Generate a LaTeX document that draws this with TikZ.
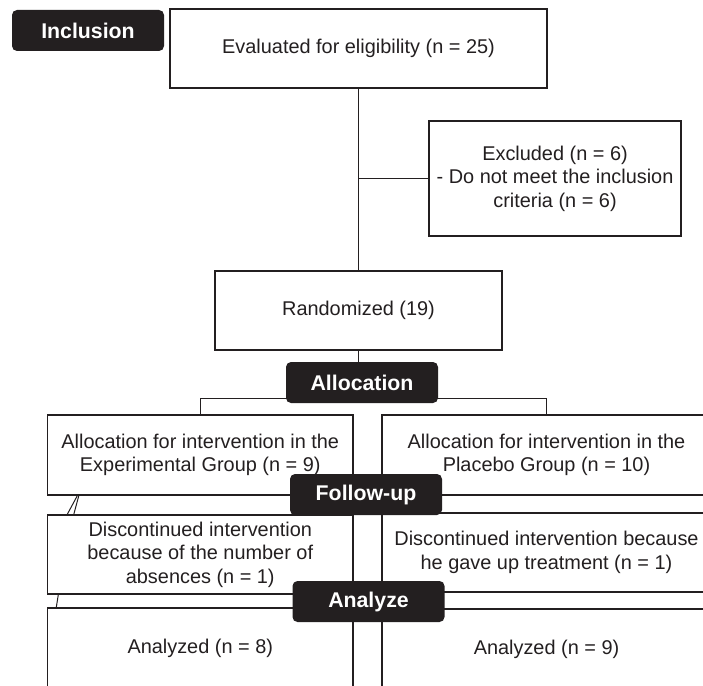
\documentclass[tikz,border=0pt]{standalone}
\usepackage{fontspec}
\setmainfont{Liberation Sans}
\usetikzlibrary{backgrounds}
\definecolor{ink}{HTML}{231F20}
\begin{document}
\begin{tikzpicture}[x=1pt,y=-1pt,
  box/.style={draw=ink,line width=1.4pt,rectangle,inner sep=0pt,align=center,text=ink,
    font=\fontsize{19.9}{23.5}\selectfont},
  tag/.style={fill=ink,rounded corners=5pt,inner sep=0pt,text=white,
    minimum width=152pt,minimum height=41pt,font=\fontsize{21.3}{24}\selectfont\bfseries},
  link/.style={draw=ink,line width=1.4pt}]
\useasboundingbox (0,0) rectangle (703,685);
\clip (0,0) rectangle (703,685);
% boxes
\node[box,minimum width=377pt,minimum height=79pt] (eval) at (358.5,48.5) {Evaluated for eligibility (n = 25)};
\node[box,minimum width=252pt,minimum height=115pt] (excl) at (555,178.5) {Excluded (n = 6)\\- Do not meet the inclusion\\criteria (n = 6)};
\node[box,minimum width=287pt,minimum height=79pt] (rand) at (358.5,310.5) {Randomized (19)};
\node[box,minimum width=305.5pt,minimum height=80pt] (allocL) at (200.25,455) {Allocation for intervention in the\\Experimental Group (n = 9)};
\node[box,minimum width=329pt,minimum height=80pt] (allocR) at (546.5,455) {Allocation for intervention in the\\Placebo Group (n = 10)};
\node[box,minimum width=305.5pt,minimum height=79pt] (discL) at (200.25,554.5) {Discontinued intervention\\because of the number of\\absences (n = 1)};
\node[box,minimum width=329pt,minimum height=79pt] (discR) at (546.5,552.5) {Discontinued intervention because\\he gave up treatment (n = 1)};
\node[box,minimum width=305.5pt,minimum height=80pt] (anaL) at (200.25,648) {Analyzed (n = 8)};
\node[box,minimum width=329pt,minimum height=80pt] (anaR) at (546.5,649) {Analyzed (n = 9)};
% stage tags
\node[tag] (tInc) at (88,30.5) {Inclusion};
\node[tag] (tAll) at (362,382.5) {Allocation};
\node[tag] (tFol) at (366,494.5) {Follow-up};
\node[tag] (tAna) at (368.5,601.5) {Analyze};
% connectors
\begin{pgfonlayer}{background}
\draw[link] (eval.south) -- (rand.north);
\draw[link] (eval.south |- excl.west) -- (excl.west);
\draw[link] (rand.south) -- (rand.south |- tAll.north);
\draw[link] (allocL.north) -- ++(0,-16) -| (allocR.north);
\end{pgfonlayer}
\draw[ink,line width=1pt] ([xshift=30.5pt]allocL.south west) -- ([xshift=20.5pt]discL.north west);
\draw[ink,line width=1pt] ([xshift=32pt]allocL.south west) -- ([xshift=27pt]discL.north west);
\draw[ink,line width=1pt] ([xshift=11.5pt]discL.south west) -- ([xshift=9.5pt]anaL.north west);
\end{tikzpicture}
\end{document}
